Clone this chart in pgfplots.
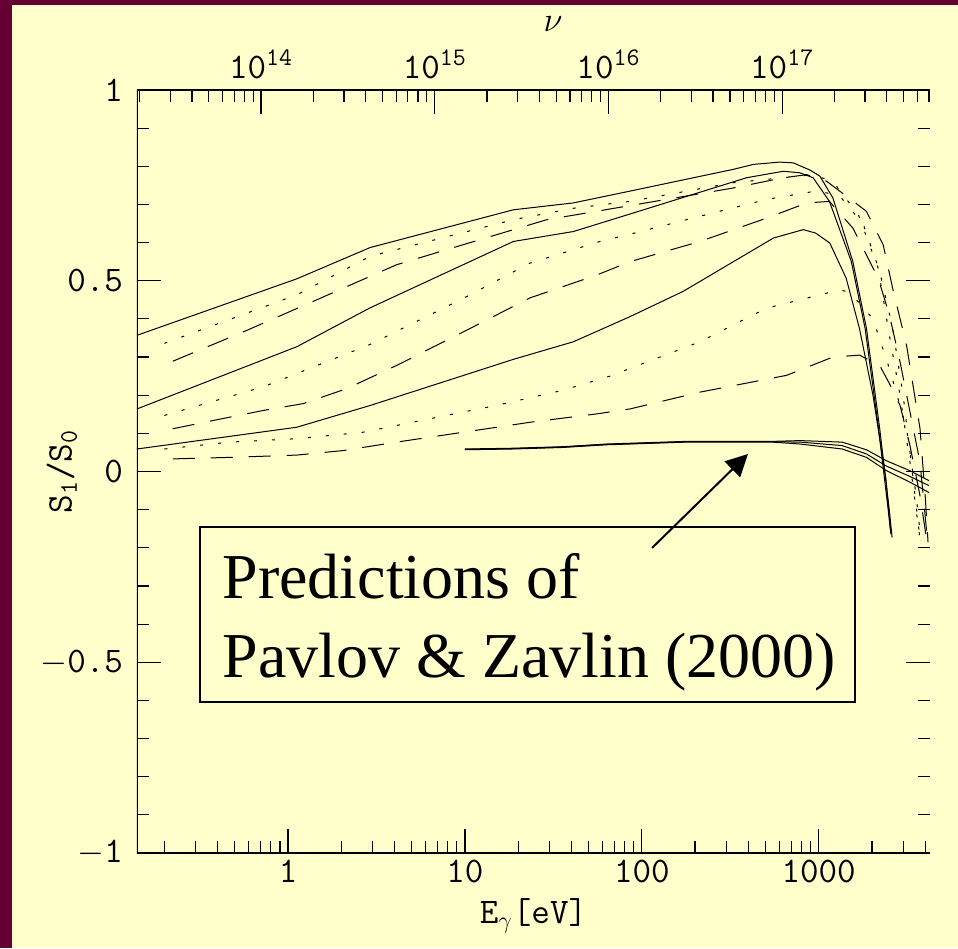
\documentclass[border=0pt]{standalone}
\usepackage{fontspec}
\newfontfamily\timesfont{Liberation Serif}
\usepackage{pgfplots}
\pgfplotsset{compat=1.18}
\usetikzlibrary{arrows.meta}
\definecolor{cream}{HTML}{FFFFCC}
\definecolor{maroon}{HTML}{660033}
\tikzset{
  sol/.style={black, line width=0.5pt},
  dot/.style={black, line width=0.5pt, dash pattern=on 1.5pt off 7.5pt},
  dsh/.style={black, line width=0.5pt, dash pattern=on 11pt off 8pt},
}
\begin{document}
\begin{tikzpicture}
\fill[cream] (0,0) rectangle (479pt,474pt);
\fill[maroon] (0,0) rectangle (6pt,474pt);
\fill[maroon] (0,471.5pt) rectangle (479pt,474pt);
% top axis (frequency)
\begin{axis}[
  at={(68.5pt,47.5pt)}, anchor=south west,
  scale only axis, width=396.5pt, height=381.5pt,
  xmode=log, xmin=1.932e13, xmax=7.096e17, ymin=0, ymax=1,
  axis x line*=top, axis y line=none,
  axis line style={line width=0.7pt},
  xtick={1e14,1e15,1e16,1e17},
  xticklabels={10\textsuperscript{14},10\textsuperscript{15},10\textsuperscript{16},10\textsuperscript{17}},
  minor xtick={2e13,3e13,4e13,5e13,6e13,7e13,8e13,9e13,
    2e14,3e14,4e14,5e14,6e14,7e14,8e14,9e14,
    2e15,3e15,4e15,5e15,6e15,7e15,8e15,9e15,
    2e16,3e16,4e16,5e16,6e16,7e16,8e16,9e16,
    2e17,3e17,4e17,5e17,6e17,7e17},
  tick align=inside,
  major tick length=12pt, minor tick length=6pt,
  every tick/.style={black, line width=0.6pt},
  tick label style={font=\ttfamily\fontsize{18}{18}\selectfont},
  xticklabel style={yshift=2pt},
  xlabel={$\nu$},
  xlabel style={at={(axis description cs:0.5246,1.0865)}, anchor=center, font=\fontsize{18}{18}\selectfont},
]
\end{axis}
% main axis
\begin{axis}[
  at={(68.5pt,47.5pt)}, anchor=south west,
  scale only axis, width=396.5pt, height=381.5pt,
  xmode=log, xmin=0.140, xmax=4258, ymin=-1, ymax=1,
  axis line style={draw=none},
  xtick={1,10,100,1000}, xticklabels={1,10,100,1000},
  minor xtick={0.2,0.3,0.4,0.5,0.6,0.7,0.8,0.9,2,3,4,5,6,7,8,9,
    20,30,40,50,60,70,80,90,200,300,400,500,600,700,800,900,2000,3000,4000},
  xtick pos=bottom,
  ytick={-1,-0.5,0,0.5,1}, yticklabels={$-$1,$-$0.5,0,0.5,1},
  minor ytick={-0.9,-0.8,-0.7,-0.6,-0.4,-0.3,-0.2,-0.1,0.1,0.2,0.3,0.4,0.6,0.7,0.8,0.9},
  ytick pos=both,
  tick align=inside,
  major tick length=12pt, minor tick length=6pt,
  every tick/.style={black, line width=0.6pt},
  tick label style={font=\ttfamily\fontsize{18}{18}\selectfont},
  yticklabel style={xshift=-3.5pt},
  xlabel={E\textsubscript{$\gamma$}[eV]},
  ylabel={S\textsubscript{1}/S\textsubscript{0}},
  label style={font=\ttfamily\fontsize{18}{18}\selectfont},
  xlabel style={at={(axis description cs:0.5,-0.0498)}, anchor=north},
  ylabel style={at={(axis description cs:-0.0946,0.5)}, anchor=center},
]
\draw[line width=0.7pt] (rel axis cs:0,1) -- (rel axis cs:0,0) -- (rel axis cs:1,0);
% top group
\addplot[sol] coordinates {(0.14,0.357) (1.12,0.505) (2.91,0.587) (18.8,0.686) (41,0.704) (85.8,0.735) (329,0.792) (428,0.805) (602,0.811) (719,0.809) (894,0.79) (1016,0.774) (1203,0.717) (1560,0.55) (1862,0.375) (2213,0.112) (2515,-0.107) (2600,-0.173)};
\addplot[dot] coordinates {(0.2,0.336) (1.12,0.463) (2.91,0.564) (18.8,0.66) (41,0.69) (85.8,0.708) (329,0.757) (930,0.778) (1203,0.76) (1676,0.673) (2168,0.533) (2510,0.357) (2884,0.2) (3280,0.024) (3740,-0.178)};
\addplot[dsh] coordinates {(0.223,0.289) (0.585,0.37) (1.52,0.454) (4.11,0.542) (10.7,0.6) (29,0.66) (72,0.691) (328,0.743) (631,0.77) (857,0.778) (1107,0.761) (1862,0.682) (2315,0.594) (2620,0.48) (3140,0.33) (3740,0.112) (4000,-0.064) (4150,-0.185)};
% middle group
\addplot[sol] coordinates {(0.14,0.164) (1.12,0.327) (2.91,0.429) (18.8,0.603) (41,0.629) (85.8,0.675) (391,0.77) (631,0.787) (781,0.783) (930,0.77) (1150,0.708) (1530,0.55) (1830,0.375) (2180,0.112) (2480,-0.107) (2560,-0.165)};
\addplot[dot] coordinates {(0.2,0.147) (0.725,0.222) (2.91,0.333) (9.8,0.454) (23.3,0.546) (58,0.603) (85.8,0.622) (213,0.669) (506,0.713) (960,0.735) (1300,0.725) (1790,0.647) (2213,0.524) (2620,0.375) (3000,0.2) (3420,-0.02) (3740,-0.178)};
\addplot[dsh] coordinates {(0.223,0.112) (0.38,0.134) (0.725,0.16) (1.22,0.178) (2.14,0.217) (4.11,0.278) (9.8,0.366) (23.3,0.455) (55.6,0.515) (85.8,0.55) (213,0.603) (506,0.664) (857,0.704) (1150,0.708) (1560,0.638) (2168,0.507) (2510,0.41) (2884,0.287) (3740,0.024) (4100,-0.17)};
% lower group
\addplot[sol] coordinates {(0.14,0.059) (1.12,0.116) (2.91,0.173) (18.8,0.294) (41,0.34) (85.8,0.406) (171,0.472) (555,0.612) (818,0.634) (960,0.625) (1155,0.599) (1429,0.507) (1700,0.375) (2027,0.2) (2400,-0.02) (2540,-0.15)};
\addplot[dot] coordinates {(0.2,0.059) (0.47,0.077) (1.12,0.086) (2.66,0.103) (6.3,0.138) (15,0.173) (35.9,0.213) (66,0.25) (213,0.34) (506,0.428) (1313,0.476) (1500,0.47) (2027,0.4) (2510,0.27) (3140,0.112) (3560,-0.064) (3780,-0.18)};
\addplot[dsh] coordinates {(0.223,0.033) (0.47,0.037) (1.12,0.043) (2.06,0.055) (4.11,0.077) (9.8,0.103) (23.3,0.129) (55.6,0.151) (85.8,0.164) (213,0.208) (658,0.252) (1203,0.3) (1700,0.305) (2213,0.278) (2540,0.226) (2884,0.173) (3280,0.068) (3740,-0.064) (4050,-0.17)};
% bottom triple
\addplot[sol] coordinates {(10,0.059) (18.7,0.061) (35.7,0.065) (63,0.072) (179,0.079) (550,0.079) (785,0.081) (1357,0.077) (1862,0.057) (2420,0.028) (3280,0.002) (4200,-0.024)};
\addplot[sol] coordinates {(10,0.058) (18.7,0.060) (35.7,0.064) (63,0.071) (179,0.078) (550,0.078) (785,0.077) (1357,0.068) (1862,0.046) (2420,0.014) (3280,-0.013) (4200,-0.037)};
\addplot[sol] coordinates {(10,0.057) (18.7,0.059) (35.7,0.063) (63,0.070) (179,0.077) (550,0.077) (785,0.072) (1357,0.059) (1862,0.037) (2420,0.002) (3280,-0.028) (4200,-0.055)};
% annotation
\draw[line width=1pt] (axis cs:0.318,-0.1455) rectangle (axis cs:1604,-0.604);
\node[anchor=base west, inner sep=0pt, font=\timesfont\fontsize{32}{38}\selectfont] at (axis cs:0.424,-0.3316) {Predictions of};
\node[anchor=base west, inner sep=0pt, font=\timesfont\fontsize{32}{38}\selectfont] at (axis cs:0.424,-0.5387) {Pavlov \& Zavlin (2000)};
\draw[line width=1pt, -{Triangle[length=11pt,width=11pt]}] (axis cs:114.2,-0.2005) -- (axis cs:398.4,0.0459);
\end{axis}
\end{tikzpicture}
\end{document}
